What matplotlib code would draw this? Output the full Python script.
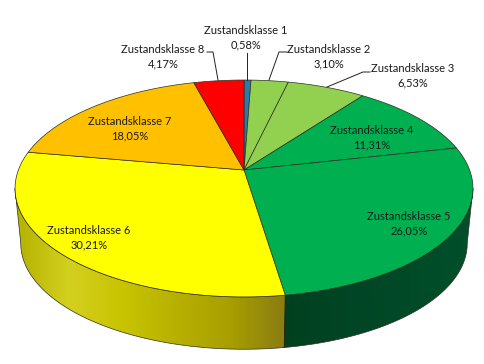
import matplotlib
matplotlib.use('Agg')
import matplotlib.pyplot as plt
from matplotlib.colors import LinearSegmentedColormap
from matplotlib.patches import Polygon
import numpy as np

labels = ['Zustandsklasse 1', 'Zustandsklasse 2', 'Zustandsklasse 3', 'Zustandsklasse 4',
          'Zustandsklasse 5', 'Zustandsklasse 6', 'Zustandsklasse 7', 'Zustandsklasse 8']
values = [0.58, 3.10, 6.53, 11.31, 26.05, 30.21, 18.05, 4.17]
colors = ['#2f78a8', '#92d050', '#92d050', '#00b050', '#00b050', '#ffff00', '#ffc000', '#ff0000']

# where the labels sit, in pixels of the picture
label_pos = [(246, 38), (329, 56.5), (413, 76), (372, 137.5), (409, 224), (89, 237.5), (130, 128.5), (163, 56.5)]
# leader lines for the small slices, None means no leader
leaders = [[(247, 53), (247, 80)],
           [(287, 52), (279, 52), (269, 80)],
           [(370, 72), (363, 72), (327, 87)],
           None, None, None, None,
           [(207, 52), (213, 52), (218, 80)]]

plt.rcParams['font.family'] = ['Lato', 'DejaVu Sans']

# perspective of the pie: apex and how the disc is squeezed
cx, cy = 244, 170
k = 0.1705
ax_a, ax_b = 105.3, 225.6
# side wall: offset and shrink of the lower rim
wall_drop, wall_scale, rim_mid = 55, 0.975, 188.5


def rim(theta):
    u, v = np.sin(theta), np.cos(theta)
    w = 1 + k * v
    return cx + ax_b * u / w, cy - ax_a * v / w


def lower_rim(theta):
    x, y = rim(theta)
    return cx + (x - cx) * wall_scale, rim_mid + (y - rim_mid) * wall_scale + wall_drop


def wall_poly(t0, t1):
    ts = np.linspace(t0, t1, 120)
    xa, ya = rim(ts)
    xb, yb = lower_rim(ts[::-1])
    return np.column_stack([np.r_[xa, xb], np.r_[ya, yb]])


fig = plt.figure(figsize=(4.85, 3.64), dpi=100)
ax = fig.add_axes([0, 0, 1, 1])
ax.set_xlim(0, 485)
ax.set_ylim(364, 0)
ax.axis('off')

edges = np.cumsum([0] + values) / 100 * 2 * np.pi
# the wall runs between the two widest points of the rim
front_start = np.deg2rad(99.8)
front_end = np.deg2rad(260.2)

# side wall, green part is a flat dark tone with a slight ramp
green_cmap = LinearSegmentedColormap.from_list('g', ['#00401f', '#004525', '#004a28', '#00502a'])
yellow_cmap = LinearSegmentedColormap.from_list(
    'y', ['#b4b000', '#d4d020', '#c8c400', '#b8b000', '#a89e00', '#8a7c14'])
grad = np.linspace(0, 1, 256).reshape(1, -1)

green_patch = Polygon(wall_poly(front_start, edges[5] + 0.01), closed=True, fc='none', ec='none')
ax.add_patch(green_patch)
im = ax.imshow(grad, cmap=green_cmap, extent=(282, 474, 352, 190), aspect='auto', zorder=1)
im.set_clip_path(green_patch)

yellow_patch = Polygon(wall_poly(edges[5], front_end), closed=True, fc='none', ec='none')
ax.add_patch(yellow_patch)
im = ax.imshow(grad, cmap=yellow_cmap, extent=(14, 286, 352, 190), aspect='auto', zorder=1)
im.set_clip_path(yellow_patch)

ax.add_patch(Polygon(wall_poly(front_start, front_end), closed=True, fc='none',
                     ec='#303020', lw=0.5, zorder=2))
xs, ys = rim(edges[5])
xe, ye = lower_rim(edges[5])
ax.plot([xs, xe], [ys, ye], color='#202010', lw=0.6, zorder=2)

# top face
for i in range(len(values)):
    ts = np.linspace(edges[i], edges[i + 1], 80)
    xr, yr = rim(ts)
    pts = np.column_stack([np.r_[cx, xr], np.r_[cy, yr]])
    ax.add_patch(Polygon(pts, closed=True, fc=colors[i], ec='#2a3020', lw=0.5, zorder=3))

# texts and leaders
for i in range(len(values)):
    txt = labels[i] + '\n' + ('%.2f%%' % values[i]).replace('.', ',')
    ax.text(label_pos[i][0], label_pos[i][1], txt, ha='center', va='center', fontsize=8,
            color='#1a1a1a', linespacing=1.4, zorder=5)
    if leaders[i] is not None:
        lx, ly = zip(*leaders[i])
        ax.plot(lx, ly, color='#222222', lw=0.7, zorder=4)

fig.savefig('out.png', dpi=100, facecolor='white')
